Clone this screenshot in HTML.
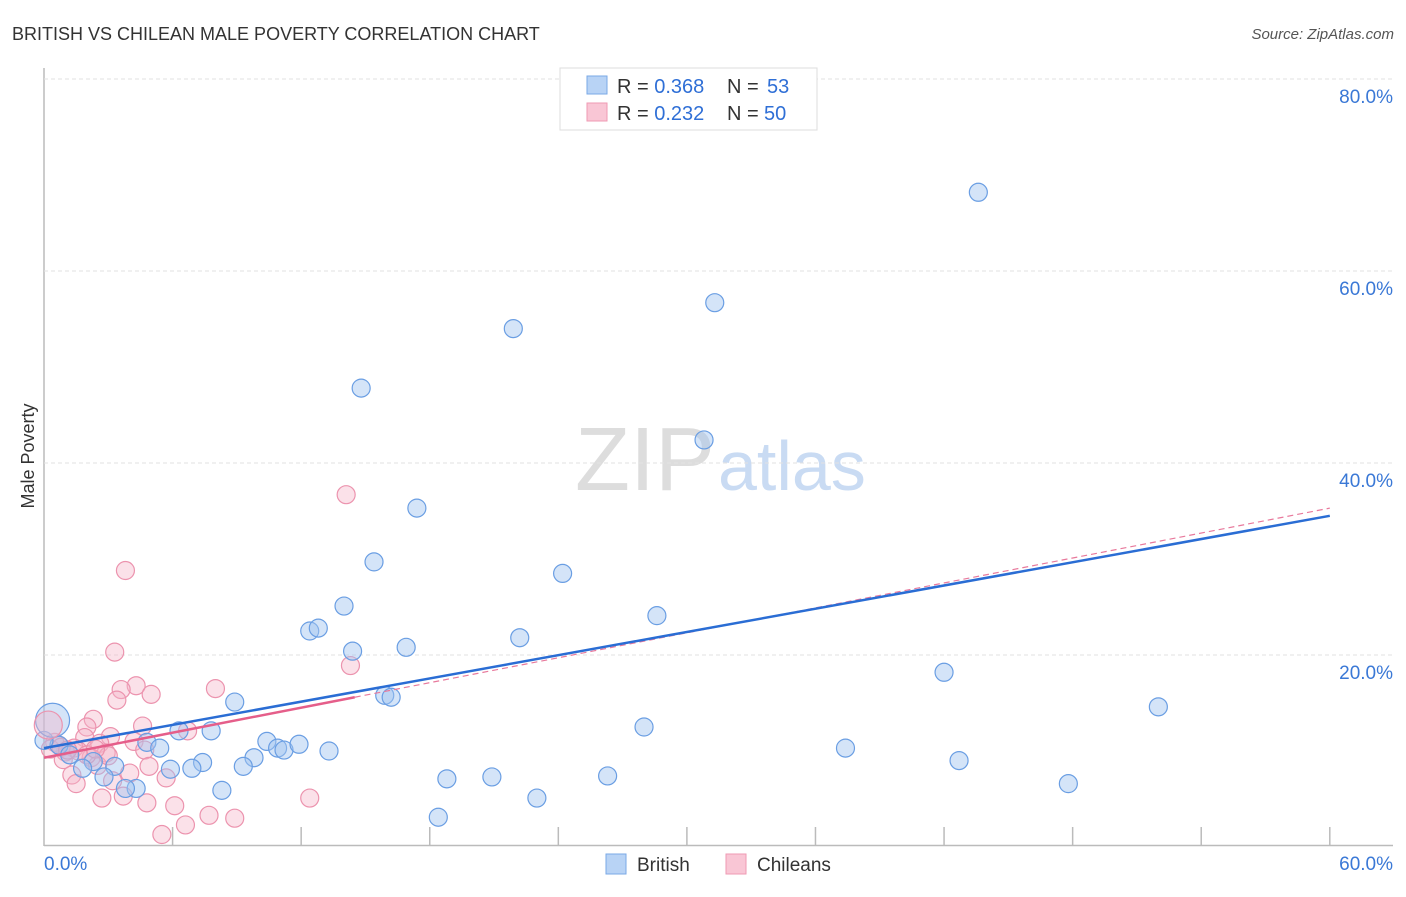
<!DOCTYPE html>
<html><head><meta charset="utf-8"><style>
body{margin:0;background:#fff;font-family:"Liberation Sans",sans-serif}
svg text{font-family:"Liberation Sans",sans-serif}
</style></head><body>
<svg id="c" width="1406" height="892">
<text x="12" y="40" font-size="18" fill="#333">BRITISH VS CHILEAN MALE POVERTY CORRELATION CHART</text>
<text x="1394" y="39" font-size="15" fill="#555" text-anchor="end" font-style="italic">Source: ZipAtlas.com</text>
<text x="715" y="490" font-size="90" fill="#ddd" text-anchor="end" font-family="Liberation Serif">ZIP</text>
<text x="718" y="490" font-size="70" fill="#c9dbf3">atlas</text>
<text x="34" y="456" font-size="18" fill="#333" text-anchor="middle" transform="rotate(-90 34 456)">Male Poverty</text>
<g id="grid"></g><g id="pts"></g><g id="lines"></g>
<g>
<rect x="560" y="68" width="257" height="62" fill="#fff" stroke="#ddd"/>
<rect x="587" y="76" width="20" height="18" fill="#b8d3f5" stroke="#7aa8e6"/>
<rect x="587" y="103" width="20" height="18" fill="#f9c6d5" stroke="#ef9ab3"/>
<text x="617" y="93" font-size="20" fill="#333">R = <tspan fill="#2f6fd6">0.368</tspan><tspan x="727">N = </tspan><tspan x="767" fill="#2f6fd6">53</tspan></text>
<text x="617" y="120" font-size="20" fill="#333">R = <tspan fill="#2f6fd6">0.232</tspan><tspan x="727">N = </tspan><tspan x="764" fill="#2f6fd6">50</tspan></text>
</g>
<g>
<rect x="606" y="854" width="20" height="20" fill="#b8d3f5" stroke="#7aa8e6"/>
<text x="637" y="871" font-size="19" fill="#333">British</text>
<rect x="726" y="854" width="20" height="20" fill="#f9c6d5" stroke="#ef9ab3"/>
<text x="757" y="871" font-size="19" fill="#333">Chileans</text>
</g>
</svg>
<script>
const yTicks=[20,40,60,80];
const yTickLabels=["20.0%","40.0%","60.0%","80.0%"];
const xTicks=[6,12,18,24,30,36,42,48,54,60];
const britishX=[43.6,31.3,21.9,14.8,30.8,17.4,15.4,24.2,14.0,28.6,12.4,12.8,22.2,16.9,14.4,42.0,15.9,16.2,52.0,8.9,28.0,6.3,7.8,10.4,4.8,10.9,11.2,11.9,5.4,13.3,37.4,9.8,7.4,9.3,6.9,5.9,42.7,3.3,2.3,1.8,2.8,18.8,20.9,26.3,47.8,4.3,3.8,8.3,23.0,18.4,0.7,1.2,0.0];
const britishY=[68.2,56.7,54.0,47.8,42.4,35.3,29.7,28.5,25.1,24.1,22.5,22.8,21.8,20.8,20.4,18.2,15.8,15.6,14.6,15.1,12.5,12.1,12.1,11.0,10.9,10.3,10.1,10.7,10.3,10.0,10.3,9.3,8.8,8.4,8.2,8.1,9.0,8.4,8.9,8.2,7.3,7.1,7.3,7.4,6.6,6.1,6.1,5.9,5.1,3.1,10.6,9.6,11.1];
const chileX=[14.1,3.8,3.3,14.3,8.0,4.3,3.6,5.0,3.4,2.3,2.0,4.6,6.7,1.9,3.1,4.2,2.6,1.4,4.7,2.9,0.7,1.0,2.2,0.9,2.5,4.9,4.0,1.3,5.7,1.5,3.2,2.7,3.7,4.8,6.1,12.4,7.7,8.9,6.6,5.5,0.5,0.3,1.6,2.0,0.8,1.1,3.0,2.4];
const chileY=[36.7,28.8,20.3,18.9,16.5,16.8,16.4,15.9,15.3,13.3,12.5,12.6,12.1,11.4,11.5,11.0,10.8,10.3,10.1,9.8,10.6,9.9,9.3,9.1,8.5,8.4,7.7,7.5,7.2,6.6,6.9,5.1,5.3,4.6,4.3,5.1,3.3,3.0,2.3,1.3,10.9,10.2,10.0,9.6,10.4,10.1,9.5,10.2];
const bigBlue=[0.4,13.2], bigPink=[0.2,12.7];
const blueTrend=[[0,10.3],[60,34.5]];
const pinkTrend=[[0,9.3],[14.5,15.6]];
const pinkDash=[[14.5,15.6],[60,35.3]];
const NS="http://www.w3.org/2000/svg";
const X=v=>44+v*21.43, Y=v=>847-v*9.6;
function mk(t,a,p){const e=document.createElementNS(NS,t);for(const k in a)e.setAttribute(k,a[k]);p.appendChild(e);return e;}
const g=document.getElementById('grid');
let ax=mk('line',{x1:44,y1:68,x2:44,y2:846,stroke:'#bbb','stroke-width':1.5},g);


let bx=mk('line',{x1:44,y1:845.5,x2:1393,y2:845.5,stroke:'#bbb','stroke-width':1.5},g);


yTicks.forEach((v,i)=>{
 const l=mk('line',{x1:44,y1:Y(v),x2:1393,y2:Y(v),stroke:'#e2e2e2','stroke-dasharray':'4,3'},g);
 
 
 const t=mk('text',{x:1393,y:Y(v)+24,'font-size':19,fill:'#3a78d6','text-anchor':'end'},g);
 t.textContent=yTickLabels[i];
 
 
});
xTicks.forEach(v=>{const l=mk('line',{x1:X(v),y1:827,x2:X(v),y2:845,stroke:'#bbb','stroke-width':1.5},g);
 
 });
let t0=mk('text',{x:44,y:870,'font-size':19,fill:'#3a78d6'},g);t0.textContent='0.0%';


let t1=mk('text',{x:1393,y:870,'font-size':19,fill:'#3a78d6','text-anchor':'end'},g);t1.textContent='60.0%';


const p=document.getElementById('pts');
function dot(x,y,r,blue){const c=mk('circle',{cx:X(x),cy:Y(y),r:r,fill:blue?'rgba(160,196,240,0.45)':'rgba(246,180,200,0.4)',stroke:blue?'#6a9ee3':'#ec93ae','stroke-width':1.2},p);
 
 }
chileX.forEach((x,i)=>dot(x,chileY[i],9,false));
britishX.forEach((x,i)=>dot(x,britishY[i],9,true));
dot(bigBlue[0],bigBlue[1],17,true);dot(bigPink[0],bigPink[1],14,false);
const L=document.getElementById('lines');
function ln(d,col,w,dash,name){const l=mk('line',{x1:X(d[0][0]),y1:Y(d[0][1]),x2:X(d[1][0]),y2:Y(d[1][1]),stroke:col,'stroke-width':w},L);if(dash)l.setAttribute('stroke-dasharray',dash);
 
 }
ln(pinkDash,'#e8799c',1.2,'6,4','chilean-trend-extension');
ln(blueTrend,'#2a6dd4',2.5,null,'british-trendline');
ln(pinkTrend,'#e55e8a',2.5,null,'chilean-trendline');
</script>
</body></html>
